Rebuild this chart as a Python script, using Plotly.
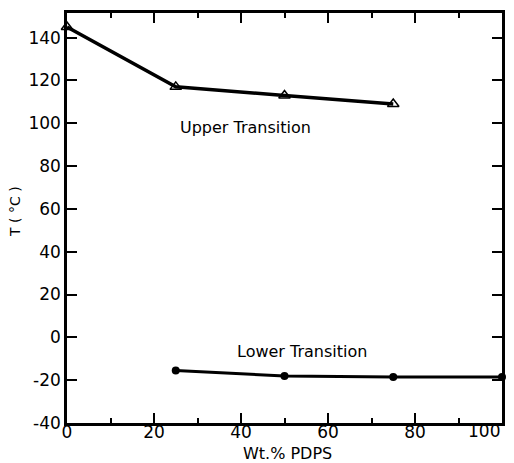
import plotly.graph_objects as go

# Data
upper_x = [0, 25, 50, 75]
upper_y = [145, 117, 113, 109]
lower_x = [25, 50, 75, 100]
lower_y = [-15.5, -18, -18.5, -18.5]

x_ticks = [0, 20, 40, 60, 80, 100]
x_ticktext = ["0", "20", "40", "60", "80", ""]
last_x_label = "100"
y_ticks = [-40, -20, 0, 20, 40, 60, 80, 100, 120, 140]
y_ticktext = ["-40", "-20", "0", "20", "40", "60", "80", "100", "120", "140"]

FONT = "DejaVu Sans"
PLOT_H = 463 - 13 - 40
PLOT_W = 514 - 67 - 12

fig = go.Figure()
fig.add_trace(go.Scatter(
    x=upper_x, y=upper_y, mode="lines+markers",
    line=dict(color="black", width=3.5),
    marker=dict(symbol="triangle-up-open", size=10, color="black", line=dict(width=1.5)),
    showlegend=False, cliponaxis=False,
))
fig.add_trace(go.Scatter(
    x=lower_x, y=lower_y, mode="lines+markers",
    line=dict(color="black", width=3),
    marker=dict(symbol="circle", size=8, color="black"),
    showlegend=False, cliponaxis=False,
))

fig.add_annotation(x=41, y=98, text="Upper Transition", showarrow=False,
                   font=dict(family=FONT, size=16, color="black"))
fig.add_annotation(x=54, y=-6.5, text="Lower Transition", showarrow=False,
                   font=dict(family=FONT, size=16, color="black"))

# last x tick label, right-aligned so it stays inside the page
fig.add_annotation(x=x_ticks[-1], xref="x", xanchor="right", y=-8 / PLOT_H, yref="paper",
                   yanchor="middle", text=last_x_label, showarrow=False,
                   font=dict(family=FONT, size=17, color="black"))
# axis titles
fig.add_annotation(x=(287 - 67) / PLOT_W, xref="paper", y=-30 / PLOT_H, yref="paper",
                   xanchor="center", yanchor="middle", text="Wt.% PDPS", showarrow=False,
                   font=dict(family=FONT, size=16, color="black"))
fig.add_annotation(x=-(67 - 15) / PLOT_W, xref="paper", y=(423 - 212) / PLOT_H, yref="paper",
                   xanchor="center", yanchor="middle", text="T ( °C )", textangle=-90,
                   showarrow=False, font=dict(family=FONT, size=14, color="black"))

axis_common = dict(
    showgrid=False, zeroline=False, showline=True, linecolor="black", linewidth=2.5,
    mirror="allticks", ticks="inside", tickcolor="black", tickwidth=1.5, ticklen=10,
    tickfont=dict(family=FONT, size=17, color="black"),
    automargin=False,
)

fig.update_xaxes(
    range=[0, 100], tickmode="array", tickvals=x_ticks, ticktext=x_ticktext,
    minor=dict(ticks="inside", dtick=10, tick0=0, ticklen=5, tickwidth=1.5, tickcolor="black"),
    ticklabelstandoff=-8,
    **axis_common,
)
fig.update_yaxes(
    range=[-40, 151.5], tickmode="array", tickvals=y_ticks, ticktext=y_ticktext,
    **axis_common,
)

fig.update_layout(
    width=514, height=463,
    margin=dict(l=67, r=12, t=13, b=40),
    paper_bgcolor="white", plot_bgcolor="white",
)

fig.write_html("out.html")
